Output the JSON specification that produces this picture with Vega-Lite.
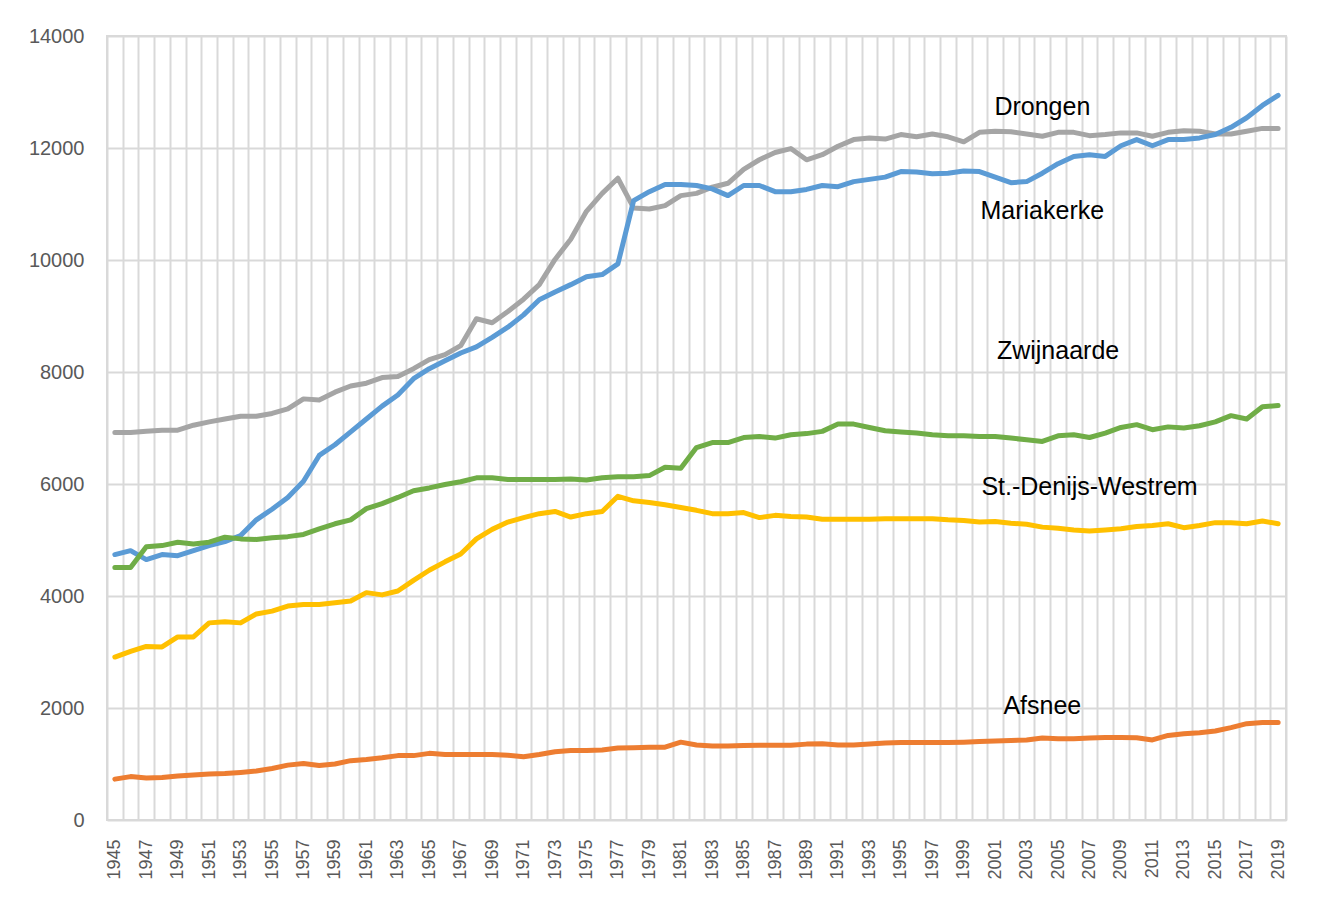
{
  "$schema": "https://vega.github.io/schema/vega-lite/v6.json",
  "autosize": {"type": "none"},
  "width": 1179,
  "height": 784,
  "padding": {"left": 107, "top": 36, "right": 36, "bottom": 78},
  "background": "white",
  "config": {
    "view": {"stroke": "#d9d9d9", "strokeWidth": 2},
    "font": "Liberation Sans"
  },
  "datasets": {
    "bevolking": [
      {"jaar":1945,"gemeente":"Drongen","inwoners":6920},{"jaar":1946,"gemeente":"Drongen","inwoners":6920},{"jaar":1947,"gemeente":"Drongen","inwoners":6940},{"jaar":1948,"gemeente":"Drongen","inwoners":6960},{"jaar":1949,"gemeente":"Drongen","inwoners":6960},{"jaar":1950,"gemeente":"Drongen","inwoners":7050},{"jaar":1951,"gemeente":"Drongen","inwoners":7110},{"jaar":1952,"gemeente":"Drongen","inwoners":7160},{"jaar":1953,"gemeente":"Drongen","inwoners":7210},{"jaar":1954,"gemeente":"Drongen","inwoners":7210},{"jaar":1955,"gemeente":"Drongen","inwoners":7260},{"jaar":1956,"gemeente":"Drongen","inwoners":7340},{"jaar":1957,"gemeente":"Drongen","inwoners":7520},{"jaar":1958,"gemeente":"Drongen","inwoners":7500},{"jaar":1959,"gemeente":"Drongen","inwoners":7640},{"jaar":1960,"gemeente":"Drongen","inwoners":7750},{"jaar":1961,"gemeente":"Drongen","inwoners":7800},{"jaar":1962,"gemeente":"Drongen","inwoners":7900},{"jaar":1963,"gemeente":"Drongen","inwoners":7920},{"jaar":1964,"gemeente":"Drongen","inwoners":8060},{"jaar":1965,"gemeente":"Drongen","inwoners":8220},{"jaar":1966,"gemeente":"Drongen","inwoners":8310},{"jaar":1967,"gemeente":"Drongen","inwoners":8470},{"jaar":1968,"gemeente":"Drongen","inwoners":8950},{"jaar":1969,"gemeente":"Drongen","inwoners":8880},{"jaar":1970,"gemeente":"Drongen","inwoners":9080},{"jaar":1971,"gemeente":"Drongen","inwoners":9300},{"jaar":1972,"gemeente":"Drongen","inwoners":9560},{"jaar":1973,"gemeente":"Drongen","inwoners":10010},{"jaar":1974,"gemeente":"Drongen","inwoners":10370},{"jaar":1975,"gemeente":"Drongen","inwoners":10870},{"jaar":1976,"gemeente":"Drongen","inwoners":11190},{"jaar":1977,"gemeente":"Drongen","inwoners":11460},{"jaar":1978,"gemeente":"Drongen","inwoners":10930},{"jaar":1979,"gemeente":"Drongen","inwoners":10910},{"jaar":1980,"gemeente":"Drongen","inwoners":10970},{"jaar":1981,"gemeente":"Drongen","inwoners":11150},{"jaar":1982,"gemeente":"Drongen","inwoners":11190},{"jaar":1983,"gemeente":"Drongen","inwoners":11300},{"jaar":1984,"gemeente":"Drongen","inwoners":11370},{"jaar":1985,"gemeente":"Drongen","inwoners":11620},{"jaar":1986,"gemeente":"Drongen","inwoners":11790},{"jaar":1987,"gemeente":"Drongen","inwoners":11920},{"jaar":1988,"gemeente":"Drongen","inwoners":11990},{"jaar":1989,"gemeente":"Drongen","inwoners":11790},{"jaar":1990,"gemeente":"Drongen","inwoners":11880},{"jaar":1991,"gemeente":"Drongen","inwoners":12030},{"jaar":1992,"gemeente":"Drongen","inwoners":12150},{"jaar":1993,"gemeente":"Drongen","inwoners":12180},{"jaar":1994,"gemeente":"Drongen","inwoners":12160},{"jaar":1995,"gemeente":"Drongen","inwoners":12240},{"jaar":1996,"gemeente":"Drongen","inwoners":12200},{"jaar":1997,"gemeente":"Drongen","inwoners":12250},{"jaar":1998,"gemeente":"Drongen","inwoners":12200},{"jaar":1999,"gemeente":"Drongen","inwoners":12110},{"jaar":2000,"gemeente":"Drongen","inwoners":12280},{"jaar":2001,"gemeente":"Drongen","inwoners":12300},{"jaar":2002,"gemeente":"Drongen","inwoners":12290},{"jaar":2003,"gemeente":"Drongen","inwoners":12250},{"jaar":2004,"gemeente":"Drongen","inwoners":12210},{"jaar":2005,"gemeente":"Drongen","inwoners":12280},{"jaar":2006,"gemeente":"Drongen","inwoners":12280},{"jaar":2007,"gemeente":"Drongen","inwoners":12220},{"jaar":2008,"gemeente":"Drongen","inwoners":12240},{"jaar":2009,"gemeente":"Drongen","inwoners":12270},{"jaar":2010,"gemeente":"Drongen","inwoners":12270},{"jaar":2011,"gemeente":"Drongen","inwoners":12210},{"jaar":2012,"gemeente":"Drongen","inwoners":12280},{"jaar":2013,"gemeente":"Drongen","inwoners":12310},{"jaar":2014,"gemeente":"Drongen","inwoners":12300},{"jaar":2015,"gemeente":"Drongen","inwoners":12250},{"jaar":2016,"gemeente":"Drongen","inwoners":12250},{"jaar":2017,"gemeente":"Drongen","inwoners":12300},{"jaar":2018,"gemeente":"Drongen","inwoners":12350},{"jaar":2019,"gemeente":"Drongen","inwoners":12350},
      {"jaar":1945,"gemeente":"Mariakerke","inwoners":4740},{"jaar":1946,"gemeente":"Mariakerke","inwoners":4810},{"jaar":1947,"gemeente":"Mariakerke","inwoners":4650},{"jaar":1948,"gemeente":"Mariakerke","inwoners":4740},{"jaar":1949,"gemeente":"Mariakerke","inwoners":4720},{"jaar":1950,"gemeente":"Mariakerke","inwoners":4810},{"jaar":1951,"gemeente":"Mariakerke","inwoners":4900},{"jaar":1952,"gemeente":"Mariakerke","inwoners":4970},{"jaar":1953,"gemeente":"Mariakerke","inwoners":5080},{"jaar":1954,"gemeente":"Mariakerke","inwoners":5360},{"jaar":1955,"gemeente":"Mariakerke","inwoners":5550},{"jaar":1956,"gemeente":"Mariakerke","inwoners":5760},{"jaar":1957,"gemeente":"Mariakerke","inwoners":6050},{"jaar":1958,"gemeente":"Mariakerke","inwoners":6510},{"jaar":1959,"gemeente":"Mariakerke","inwoners":6700},{"jaar":1960,"gemeente":"Mariakerke","inwoners":6930},{"jaar":1961,"gemeente":"Mariakerke","inwoners":7160},{"jaar":1962,"gemeente":"Mariakerke","inwoners":7390},{"jaar":1963,"gemeente":"Mariakerke","inwoners":7590},{"jaar":1964,"gemeente":"Mariakerke","inwoners":7880},{"jaar":1965,"gemeente":"Mariakerke","inwoners":8060},{"jaar":1966,"gemeente":"Mariakerke","inwoners":8200},{"jaar":1967,"gemeente":"Mariakerke","inwoners":8340},{"jaar":1968,"gemeente":"Mariakerke","inwoners":8450},{"jaar":1969,"gemeente":"Mariakerke","inwoners":8620},{"jaar":1970,"gemeente":"Mariakerke","inwoners":8800},{"jaar":1971,"gemeente":"Mariakerke","inwoners":9020},{"jaar":1972,"gemeente":"Mariakerke","inwoners":9290},{"jaar":1973,"gemeente":"Mariakerke","inwoners":9430},{"jaar":1974,"gemeente":"Mariakerke","inwoners":9560},{"jaar":1975,"gemeente":"Mariakerke","inwoners":9700},{"jaar":1976,"gemeente":"Mariakerke","inwoners":9740},{"jaar":1977,"gemeente":"Mariakerke","inwoners":9930},{"jaar":1978,"gemeente":"Mariakerke","inwoners":11060},{"jaar":1979,"gemeente":"Mariakerke","inwoners":11220},{"jaar":1980,"gemeente":"Mariakerke","inwoners":11350},{"jaar":1981,"gemeente":"Mariakerke","inwoners":11350},{"jaar":1982,"gemeente":"Mariakerke","inwoners":11330},{"jaar":1983,"gemeente":"Mariakerke","inwoners":11270},{"jaar":1984,"gemeente":"Mariakerke","inwoners":11150},{"jaar":1985,"gemeente":"Mariakerke","inwoners":11330},{"jaar":1986,"gemeente":"Mariakerke","inwoners":11330},{"jaar":1987,"gemeente":"Mariakerke","inwoners":11220},{"jaar":1988,"gemeente":"Mariakerke","inwoners":11220},{"jaar":1989,"gemeente":"Mariakerke","inwoners":11260},{"jaar":1990,"gemeente":"Mariakerke","inwoners":11330},{"jaar":1991,"gemeente":"Mariakerke","inwoners":11310},{"jaar":1992,"gemeente":"Mariakerke","inwoners":11400},{"jaar":1993,"gemeente":"Mariakerke","inwoners":11440},{"jaar":1994,"gemeente":"Mariakerke","inwoners":11480},{"jaar":1995,"gemeente":"Mariakerke","inwoners":11580},{"jaar":1996,"gemeente":"Mariakerke","inwoners":11570},{"jaar":1997,"gemeente":"Mariakerke","inwoners":11540},{"jaar":1998,"gemeente":"Mariakerke","inwoners":11550},{"jaar":1999,"gemeente":"Mariakerke","inwoners":11590},{"jaar":2000,"gemeente":"Mariakerke","inwoners":11580},{"jaar":2001,"gemeente":"Mariakerke","inwoners":11480},{"jaar":2002,"gemeente":"Mariakerke","inwoners":11380},{"jaar":2003,"gemeente":"Mariakerke","inwoners":11400},{"jaar":2004,"gemeente":"Mariakerke","inwoners":11550},{"jaar":2005,"gemeente":"Mariakerke","inwoners":11720},{"jaar":2006,"gemeente":"Mariakerke","inwoners":11850},{"jaar":2007,"gemeente":"Mariakerke","inwoners":11880},{"jaar":2008,"gemeente":"Mariakerke","inwoners":11850},{"jaar":2009,"gemeente":"Mariakerke","inwoners":12040},{"jaar":2010,"gemeente":"Mariakerke","inwoners":12150},{"jaar":2011,"gemeente":"Mariakerke","inwoners":12040},{"jaar":2012,"gemeente":"Mariakerke","inwoners":12150},{"jaar":2013,"gemeente":"Mariakerke","inwoners":12150},{"jaar":2014,"gemeente":"Mariakerke","inwoners":12180},{"jaar":2015,"gemeente":"Mariakerke","inwoners":12240},{"jaar":2016,"gemeente":"Mariakerke","inwoners":12370},{"jaar":2017,"gemeente":"Mariakerke","inwoners":12540},{"jaar":2018,"gemeente":"Mariakerke","inwoners":12760},{"jaar":2019,"gemeente":"Mariakerke","inwoners":12940},
      {"jaar":1945,"gemeente":"Zwijnaarde","inwoners":4510},{"jaar":1946,"gemeente":"Zwijnaarde","inwoners":4510},{"jaar":1947,"gemeente":"Zwijnaarde","inwoners":4880},{"jaar":1948,"gemeente":"Zwijnaarde","inwoners":4900},{"jaar":1949,"gemeente":"Zwijnaarde","inwoners":4960},{"jaar":1950,"gemeente":"Zwijnaarde","inwoners":4930},{"jaar":1951,"gemeente":"Zwijnaarde","inwoners":4960},{"jaar":1952,"gemeente":"Zwijnaarde","inwoners":5050},{"jaar":1953,"gemeente":"Zwijnaarde","inwoners":5020},{"jaar":1954,"gemeente":"Zwijnaarde","inwoners":5010},{"jaar":1955,"gemeente":"Zwijnaarde","inwoners":5040},{"jaar":1956,"gemeente":"Zwijnaarde","inwoners":5060},{"jaar":1957,"gemeente":"Zwijnaarde","inwoners":5100},{"jaar":1958,"gemeente":"Zwijnaarde","inwoners":5200},{"jaar":1959,"gemeente":"Zwijnaarde","inwoners":5290},{"jaar":1960,"gemeente":"Zwijnaarde","inwoners":5360},{"jaar":1961,"gemeente":"Zwijnaarde","inwoners":5560},{"jaar":1962,"gemeente":"Zwijnaarde","inwoners":5650},{"jaar":1963,"gemeente":"Zwijnaarde","inwoners":5760},{"jaar":1964,"gemeente":"Zwijnaarde","inwoners":5880},{"jaar":1965,"gemeente":"Zwijnaarde","inwoners":5930},{"jaar":1966,"gemeente":"Zwijnaarde","inwoners":5990},{"jaar":1967,"gemeente":"Zwijnaarde","inwoners":6040},{"jaar":1968,"gemeente":"Zwijnaarde","inwoners":6110},{"jaar":1969,"gemeente":"Zwijnaarde","inwoners":6110},{"jaar":1970,"gemeente":"Zwijnaarde","inwoners":6080},{"jaar":1971,"gemeente":"Zwijnaarde","inwoners":6080},{"jaar":1972,"gemeente":"Zwijnaarde","inwoners":6080},{"jaar":1973,"gemeente":"Zwijnaarde","inwoners":6080},{"jaar":1974,"gemeente":"Zwijnaarde","inwoners":6090},{"jaar":1975,"gemeente":"Zwijnaarde","inwoners":6070},{"jaar":1976,"gemeente":"Zwijnaarde","inwoners":6110},{"jaar":1977,"gemeente":"Zwijnaarde","inwoners":6130},{"jaar":1978,"gemeente":"Zwijnaarde","inwoners":6130},{"jaar":1979,"gemeente":"Zwijnaarde","inwoners":6150},{"jaar":1980,"gemeente":"Zwijnaarde","inwoners":6300},{"jaar":1981,"gemeente":"Zwijnaarde","inwoners":6280},{"jaar":1982,"gemeente":"Zwijnaarde","inwoners":6650},{"jaar":1983,"gemeente":"Zwijnaarde","inwoners":6740},{"jaar":1984,"gemeente":"Zwijnaarde","inwoners":6740},{"jaar":1985,"gemeente":"Zwijnaarde","inwoners":6830},{"jaar":1986,"gemeente":"Zwijnaarde","inwoners":6850},{"jaar":1987,"gemeente":"Zwijnaarde","inwoners":6820},{"jaar":1988,"gemeente":"Zwijnaarde","inwoners":6880},{"jaar":1989,"gemeente":"Zwijnaarde","inwoners":6900},{"jaar":1990,"gemeente":"Zwijnaarde","inwoners":6940},{"jaar":1991,"gemeente":"Zwijnaarde","inwoners":7070},{"jaar":1992,"gemeente":"Zwijnaarde","inwoners":7070},{"jaar":1993,"gemeente":"Zwijnaarde","inwoners":7010},{"jaar":1994,"gemeente":"Zwijnaarde","inwoners":6950},{"jaar":1995,"gemeente":"Zwijnaarde","inwoners":6930},{"jaar":1996,"gemeente":"Zwijnaarde","inwoners":6910},{"jaar":1997,"gemeente":"Zwijnaarde","inwoners":6880},{"jaar":1998,"gemeente":"Zwijnaarde","inwoners":6860},{"jaar":1999,"gemeente":"Zwijnaarde","inwoners":6860},{"jaar":2000,"gemeente":"Zwijnaarde","inwoners":6850},{"jaar":2001,"gemeente":"Zwijnaarde","inwoners":6850},{"jaar":2002,"gemeente":"Zwijnaarde","inwoners":6820},{"jaar":2003,"gemeente":"Zwijnaarde","inwoners":6790},{"jaar":2004,"gemeente":"Zwijnaarde","inwoners":6760},{"jaar":2005,"gemeente":"Zwijnaarde","inwoners":6860},{"jaar":2006,"gemeente":"Zwijnaarde","inwoners":6880},{"jaar":2007,"gemeente":"Zwijnaarde","inwoners":6830},{"jaar":2008,"gemeente":"Zwijnaarde","inwoners":6910},{"jaar":2009,"gemeente":"Zwijnaarde","inwoners":7010},{"jaar":2010,"gemeente":"Zwijnaarde","inwoners":7060},{"jaar":2011,"gemeente":"Zwijnaarde","inwoners":6970},{"jaar":2012,"gemeente":"Zwijnaarde","inwoners":7020},{"jaar":2013,"gemeente":"Zwijnaarde","inwoners":7000},{"jaar":2014,"gemeente":"Zwijnaarde","inwoners":7040},{"jaar":2015,"gemeente":"Zwijnaarde","inwoners":7110},{"jaar":2016,"gemeente":"Zwijnaarde","inwoners":7220},{"jaar":2017,"gemeente":"Zwijnaarde","inwoners":7160},{"jaar":2018,"gemeente":"Zwijnaarde","inwoners":7380},{"jaar":2019,"gemeente":"Zwijnaarde","inwoners":7400},
      {"jaar":1945,"gemeente":"St.-Denijs-Westrem","inwoners":2910},{"jaar":1946,"gemeente":"St.-Denijs-Westrem","inwoners":3010},{"jaar":1947,"gemeente":"St.-Denijs-Westrem","inwoners":3100},{"jaar":1948,"gemeente":"St.-Denijs-Westrem","inwoners":3090},{"jaar":1949,"gemeente":"St.-Denijs-Westrem","inwoners":3270},{"jaar":1950,"gemeente":"St.-Denijs-Westrem","inwoners":3270},{"jaar":1951,"gemeente":"St.-Denijs-Westrem","inwoners":3520},{"jaar":1952,"gemeente":"St.-Denijs-Westrem","inwoners":3540},{"jaar":1953,"gemeente":"St.-Denijs-Westrem","inwoners":3520},{"jaar":1954,"gemeente":"St.-Denijs-Westrem","inwoners":3680},{"jaar":1955,"gemeente":"St.-Denijs-Westrem","inwoners":3730},{"jaar":1956,"gemeente":"St.-Denijs-Westrem","inwoners":3820},{"jaar":1957,"gemeente":"St.-Denijs-Westrem","inwoners":3850},{"jaar":1958,"gemeente":"St.-Denijs-Westrem","inwoners":3850},{"jaar":1959,"gemeente":"St.-Denijs-Westrem","inwoners":3880},{"jaar":1960,"gemeente":"St.-Denijs-Westrem","inwoners":3910},{"jaar":1961,"gemeente":"St.-Denijs-Westrem","inwoners":4060},{"jaar":1962,"gemeente":"St.-Denijs-Westrem","inwoners":4020},{"jaar":1963,"gemeente":"St.-Denijs-Westrem","inwoners":4090},{"jaar":1964,"gemeente":"St.-Denijs-Westrem","inwoners":4280},{"jaar":1965,"gemeente":"St.-Denijs-Westrem","inwoners":4460},{"jaar":1966,"gemeente":"St.-Denijs-Westrem","inwoners":4610},{"jaar":1967,"gemeente":"St.-Denijs-Westrem","inwoners":4750},{"jaar":1968,"gemeente":"St.-Denijs-Westrem","inwoners":5020},{"jaar":1969,"gemeente":"St.-Denijs-Westrem","inwoners":5190},{"jaar":1970,"gemeente":"St.-Denijs-Westrem","inwoners":5320},{"jaar":1971,"gemeente":"St.-Denijs-Westrem","inwoners":5400},{"jaar":1972,"gemeente":"St.-Denijs-Westrem","inwoners":5470},{"jaar":1973,"gemeente":"St.-Denijs-Westrem","inwoners":5510},{"jaar":1974,"gemeente":"St.-Denijs-Westrem","inwoners":5410},{"jaar":1975,"gemeente":"St.-Denijs-Westrem","inwoners":5470},{"jaar":1976,"gemeente":"St.-Denijs-Westrem","inwoners":5510},{"jaar":1977,"gemeente":"St.-Denijs-Westrem","inwoners":5780},{"jaar":1978,"gemeente":"St.-Denijs-Westrem","inwoners":5700},{"jaar":1979,"gemeente":"St.-Denijs-Westrem","inwoners":5670},{"jaar":1980,"gemeente":"St.-Denijs-Westrem","inwoners":5630},{"jaar":1981,"gemeente":"St.-Denijs-Westrem","inwoners":5580},{"jaar":1982,"gemeente":"St.-Denijs-Westrem","inwoners":5530},{"jaar":1983,"gemeente":"St.-Denijs-Westrem","inwoners":5470},{"jaar":1984,"gemeente":"St.-Denijs-Westrem","inwoners":5470},{"jaar":1985,"gemeente":"St.-Denijs-Westrem","inwoners":5490},{"jaar":1986,"gemeente":"St.-Denijs-Westrem","inwoners":5400},{"jaar":1987,"gemeente":"St.-Denijs-Westrem","inwoners":5440},{"jaar":1988,"gemeente":"St.-Denijs-Westrem","inwoners":5420},{"jaar":1989,"gemeente":"St.-Denijs-Westrem","inwoners":5410},{"jaar":1990,"gemeente":"St.-Denijs-Westrem","inwoners":5370},{"jaar":1991,"gemeente":"St.-Denijs-Westrem","inwoners":5370},{"jaar":1992,"gemeente":"St.-Denijs-Westrem","inwoners":5370},{"jaar":1993,"gemeente":"St.-Denijs-Westrem","inwoners":5370},{"jaar":1994,"gemeente":"St.-Denijs-Westrem","inwoners":5380},{"jaar":1995,"gemeente":"St.-Denijs-Westrem","inwoners":5380},{"jaar":1996,"gemeente":"St.-Denijs-Westrem","inwoners":5380},{"jaar":1997,"gemeente":"St.-Denijs-Westrem","inwoners":5380},{"jaar":1998,"gemeente":"St.-Denijs-Westrem","inwoners":5360},{"jaar":1999,"gemeente":"St.-Denijs-Westrem","inwoners":5350},{"jaar":2000,"gemeente":"St.-Denijs-Westrem","inwoners":5320},{"jaar":2001,"gemeente":"St.-Denijs-Westrem","inwoners":5330},{"jaar":2002,"gemeente":"St.-Denijs-Westrem","inwoners":5300},{"jaar":2003,"gemeente":"St.-Denijs-Westrem","inwoners":5280},{"jaar":2004,"gemeente":"St.-Denijs-Westrem","inwoners":5230},{"jaar":2005,"gemeente":"St.-Denijs-Westrem","inwoners":5210},{"jaar":2006,"gemeente":"St.-Denijs-Westrem","inwoners":5180},{"jaar":2007,"gemeente":"St.-Denijs-Westrem","inwoners":5160},{"jaar":2008,"gemeente":"St.-Denijs-Westrem","inwoners":5180},{"jaar":2009,"gemeente":"St.-Denijs-Westrem","inwoners":5200},{"jaar":2010,"gemeente":"St.-Denijs-Westrem","inwoners":5240},{"jaar":2011,"gemeente":"St.-Denijs-Westrem","inwoners":5260},{"jaar":2012,"gemeente":"St.-Denijs-Westrem","inwoners":5290},{"jaar":2013,"gemeente":"St.-Denijs-Westrem","inwoners":5220},{"jaar":2014,"gemeente":"St.-Denijs-Westrem","inwoners":5260},{"jaar":2015,"gemeente":"St.-Denijs-Westrem","inwoners":5310},{"jaar":2016,"gemeente":"St.-Denijs-Westrem","inwoners":5310},{"jaar":2017,"gemeente":"St.-Denijs-Westrem","inwoners":5290},{"jaar":2018,"gemeente":"St.-Denijs-Westrem","inwoners":5340},{"jaar":2019,"gemeente":"St.-Denijs-Westrem","inwoners":5290},
      {"jaar":1945,"gemeente":"Afsnee","inwoners":730},{"jaar":1946,"gemeente":"Afsnee","inwoners":775},{"jaar":1947,"gemeente":"Afsnee","inwoners":750},{"jaar":1948,"gemeente":"Afsnee","inwoners":760},{"jaar":1949,"gemeente":"Afsnee","inwoners":785},{"jaar":1950,"gemeente":"Afsnee","inwoners":805},{"jaar":1951,"gemeente":"Afsnee","inwoners":820},{"jaar":1952,"gemeente":"Afsnee","inwoners":830},{"jaar":1953,"gemeente":"Afsnee","inwoners":850},{"jaar":1954,"gemeente":"Afsnee","inwoners":875},{"jaar":1955,"gemeente":"Afsnee","inwoners":920},{"jaar":1956,"gemeente":"Afsnee","inwoners":980},{"jaar":1957,"gemeente":"Afsnee","inwoners":1010},{"jaar":1958,"gemeente":"Afsnee","inwoners":975},{"jaar":1959,"gemeente":"Afsnee","inwoners":1000},{"jaar":1960,"gemeente":"Afsnee","inwoners":1060},{"jaar":1961,"gemeente":"Afsnee","inwoners":1080},{"jaar":1962,"gemeente":"Afsnee","inwoners":1110},{"jaar":1963,"gemeente":"Afsnee","inwoners":1150},{"jaar":1964,"gemeente":"Afsnee","inwoners":1150},{"jaar":1965,"gemeente":"Afsnee","inwoners":1190},{"jaar":1966,"gemeente":"Afsnee","inwoners":1170},{"jaar":1967,"gemeente":"Afsnee","inwoners":1170},{"jaar":1968,"gemeente":"Afsnee","inwoners":1170},{"jaar":1969,"gemeente":"Afsnee","inwoners":1170},{"jaar":1970,"gemeente":"Afsnee","inwoners":1155},{"jaar":1971,"gemeente":"Afsnee","inwoners":1130},{"jaar":1972,"gemeente":"Afsnee","inwoners":1170},{"jaar":1973,"gemeente":"Afsnee","inwoners":1220},{"jaar":1974,"gemeente":"Afsnee","inwoners":1240},{"jaar":1975,"gemeente":"Afsnee","inwoners":1240},{"jaar":1976,"gemeente":"Afsnee","inwoners":1250},{"jaar":1977,"gemeente":"Afsnee","inwoners":1285},{"jaar":1978,"gemeente":"Afsnee","inwoners":1290},{"jaar":1979,"gemeente":"Afsnee","inwoners":1300},{"jaar":1980,"gemeente":"Afsnee","inwoners":1300},{"jaar":1981,"gemeente":"Afsnee","inwoners":1390},{"jaar":1982,"gemeente":"Afsnee","inwoners":1340},{"jaar":1983,"gemeente":"Afsnee","inwoners":1320},{"jaar":1984,"gemeente":"Afsnee","inwoners":1320},{"jaar":1985,"gemeente":"Afsnee","inwoners":1330},{"jaar":1986,"gemeente":"Afsnee","inwoners":1335},{"jaar":1987,"gemeente":"Afsnee","inwoners":1335},{"jaar":1988,"gemeente":"Afsnee","inwoners":1335},{"jaar":1989,"gemeente":"Afsnee","inwoners":1355},{"jaar":1990,"gemeente":"Afsnee","inwoners":1360},{"jaar":1991,"gemeente":"Afsnee","inwoners":1340},{"jaar":1992,"gemeente":"Afsnee","inwoners":1340},{"jaar":1993,"gemeente":"Afsnee","inwoners":1355},{"jaar":1994,"gemeente":"Afsnee","inwoners":1375},{"jaar":1995,"gemeente":"Afsnee","inwoners":1385},{"jaar":1996,"gemeente":"Afsnee","inwoners":1385},{"jaar":1997,"gemeente":"Afsnee","inwoners":1385},{"jaar":1998,"gemeente":"Afsnee","inwoners":1385},{"jaar":1999,"gemeente":"Afsnee","inwoners":1390},{"jaar":2000,"gemeente":"Afsnee","inwoners":1400},{"jaar":2001,"gemeente":"Afsnee","inwoners":1410},{"jaar":2002,"gemeente":"Afsnee","inwoners":1420},{"jaar":2003,"gemeente":"Afsnee","inwoners":1430},{"jaar":2004,"gemeente":"Afsnee","inwoners":1465},{"jaar":2005,"gemeente":"Afsnee","inwoners":1450},{"jaar":2006,"gemeente":"Afsnee","inwoners":1450},{"jaar":2007,"gemeente":"Afsnee","inwoners":1465},{"jaar":2008,"gemeente":"Afsnee","inwoners":1475},{"jaar":2009,"gemeente":"Afsnee","inwoners":1475},{"jaar":2010,"gemeente":"Afsnee","inwoners":1470},{"jaar":2011,"gemeente":"Afsnee","inwoners":1430},{"jaar":2012,"gemeente":"Afsnee","inwoners":1510},{"jaar":2013,"gemeente":"Afsnee","inwoners":1540},{"jaar":2014,"gemeente":"Afsnee","inwoners":1560},{"jaar":2015,"gemeente":"Afsnee","inwoners":1590},{"jaar":2016,"gemeente":"Afsnee","inwoners":1650},{"jaar":2017,"gemeente":"Afsnee","inwoners":1720},{"jaar":2018,"gemeente":"Afsnee","inwoners":1740},{"jaar":2019,"gemeente":"Afsnee","inwoners":1740}
    ],
    "labels": [
      {"jaar":2004,"label":"Drongen","inwoners":12730},
      {"jaar":2004,"label":"Mariakerke","inwoners":10875},
      {"jaar":2005,"label":"Zwijnaarde","inwoners":8375},
      {"jaar":2007,"label":"St.-Denijs-Westrem","inwoners":5946},
      {"jaar":2004,"label":"Afsnee","inwoners":2036}
    ]
  },
  "encoding": {
    "x": {
      "field": "jaar",
      "type": "ordinal",
      "scale": {"type": "band", "paddingInner": 0, "paddingOuter": 0},
      "axis": {
        "title": null,
        "tickBand": "extent",
        "grid": true,
        "gridColor": "#d9d9d9",
        "gridWidth": 2,
        "domain": false,
        "ticks": false,
        "tickSize": 0,
        "labelAngle": -90,
        "labelAlign": "right",
        "labelBaseline": "middle",
        "labelPadding": 19,
        "labelFontSize": 18,
        "labelColor": "#595959",
        "labelOverlap": false,
        "labelExpr": "(datum.value - 1945) % 2 == 0 ? datum.label : ''"
      }
    },
    "y": {
      "field": "inwoners",
      "type": "quantitative",
      "scale": {"domain": [0, 14000], "nice": false, "zero": true},
      "axis": {
        "title": null,
        "values": [0, 2000, 4000, 6000, 8000, 10000, 12000, 14000],
        "format": "d",
        "grid": true,
        "gridColor": "#d9d9d9",
        "gridWidth": 2,
        "domain": false,
        "ticks": false,
        "tickSize": 0,
        "labelPadding": 23,
        "labelFontSize": 20,
        "labelColor": "#595959"
      }
    }
  },
  "layer": [
    {
      "data": {"name": "bevolking"},
      "mark": {"type": "line", "strokeWidth": 5, "strokeJoin": "round", "strokeCap": "round"},
      "encoding": {
        "color": {
          "field": "gemeente",
          "type": "nominal",
          "scale": {
            "domain": ["Drongen", "Mariakerke", "Zwijnaarde", "St.-Denijs-Westrem", "Afsnee"],
            "range": ["#A5A5A5", "#5B9BD5", "#70AD47", "#FFC000", "#ED7D31"]
          },
          "legend": null
        }
      }
    },
    {
      "data": {"name": "labels"},
      "mark": {"type": "text", "fontSize": 25, "color": "#000000", "align": "center", "baseline": "middle", "font": "Liberation Sans"},
      "encoding": {
        "text": {"field": "label"}
      }
    }
  ]
}
